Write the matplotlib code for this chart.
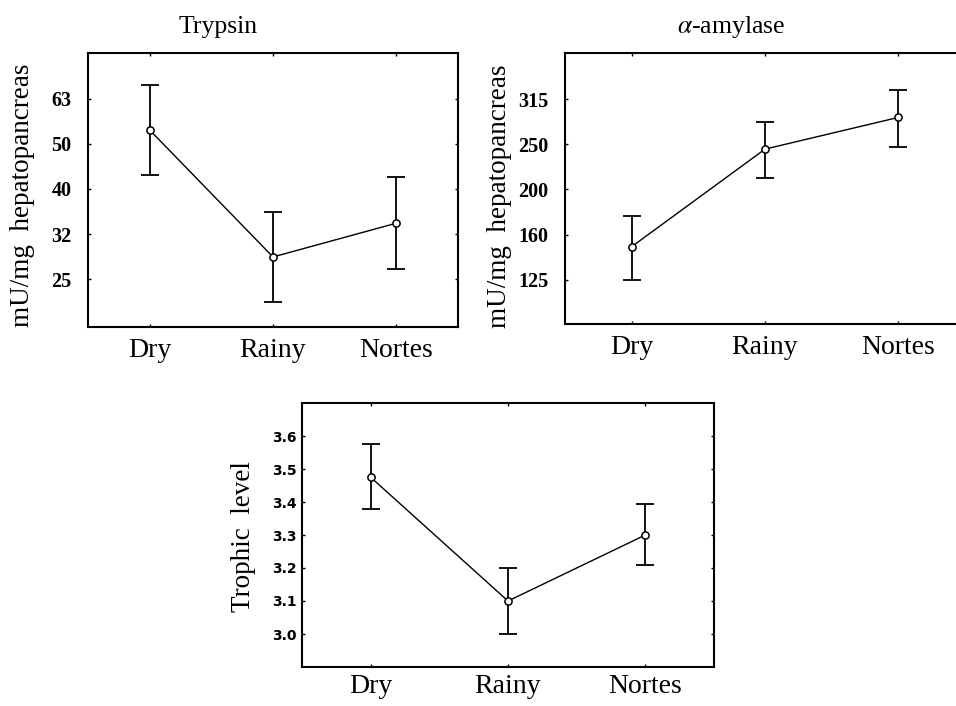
import numpy as np
import matplotlib
matplotlib.use("Agg")
import matplotlib.pyplot as plt

plt.rcParams['font.family'] = ['Liberation Serif', 'DejaVu Serif']
plt.rcParams['mathtext.fontset'] = 'stix'

# ----------------------------
# data
# ----------------------------
seasons = ["Dry", "Rainy", "Nortes"]

# Trypsin, mU/mg hepatopancreas (log axis)
trypsin_mean = [53.8, 28.1, 33.4]
trypsin_upper = [67.9, 35.4, 42.2]
trypsin_lower = [42.8, 22.3, 26.4]
trypsin_ticks = [25.1, 31.6, 39.8, 50.1, 63.1]
trypsin_ticklabels = ["25", "32", "40", "50", "63"]

# alpha-amylase, mU/mg hepatopancreas (log axis)
amylase_mean = [149, 245, 288]
amylase_upper = [174, 282, 332]
amylase_lower = [126, 212, 248]
amylase_ticks = [125.9, 158.5, 199.5, 251.2, 316.2]
amylase_ticklabels = ["125", "160", "200", "250", "315"]

# trophic level
trophic_mean = [3.475, 3.10, 3.30]
trophic_upper = [3.575, 3.20, 3.395]
trophic_lower = [3.378, 3.00, 3.208]
trophic_ticks = [3.0, 3.1, 3.2, 3.3, 3.4, 3.5, 3.6]
trophic_ticklabels = ["3.0", "3.1", "3.2", "3.3", "3.4", "3.5", "3.6"]

W, H = 956, 706
fig = plt.figure(figsize=(W / 100, H / 100), dpi=100)


def px_axes(left, top, right, bottom):
    return fig.add_axes([left / W, 1 - bottom / H, (right - left) / W, (bottom - top) / H])


def draw_panel(ax, mean, lower, upper):
    x = np.arange(len(seasons))
    mean = np.array(mean)
    yerr = [mean - np.array(lower), np.array(upper) - mean]
    ax.errorbar(x, mean, yerr=yerr, fmt='none', ecolor='black',
                elinewidth=1.3, capsize=6.5, capthick=1.3, zorder=2)
    ax.plot(x, mean, color='black', lw=1.0, marker='o', ms=5.2,
            mfc='white', mec='black', mew=1.1, zorder=3)
    ax.set_xlim(-0.5, 2.5)
    ax.set_xticks(x)
    ax.set_xticklabels(seasons, fontsize=20)
    ax.minorticks_off()
    ax.tick_params(direction='in', length=2.5, width=1, top=True, right=True)
    for s in ax.spines.values():
        s.set_linewidth(1.5)


# ---- Trypsin ----
ax1 = px_axes(88, 53, 458, 327)
draw_panel(ax1, trypsin_mean, trypsin_lower, trypsin_upper)
ax1.set_yscale('log')
ax1.set_ylim(10 ** 1.293, 10 ** 1.902)
ax1.set_yticks(trypsin_ticks)
ax1.set_yticklabels(trypsin_ticklabels, fontsize=14.5, fontweight='bold')
ax1.minorticks_off()
ax1.tick_params(axis='y', pad=12)
ax1.tick_params(axis='x', pad=8)
ax1.set_ylabel("mU/mg  hepatopancreas", fontsize=19.5, va='center')
ax1.yaxis.set_label_coords(-0.176, 0.482)
ax1.text(0.351, 1.073, "Trypsin", transform=ax1.transAxes,
         ha='center', va='baseline', fontsize=18.5)

# ---- alpha-amylase ----
ax2 = px_axes(565, 53, 965, 324)
draw_panel(ax2, amylase_mean, amylase_lower, amylase_upper)
ax2.set_yscale('log')
ax2.set_ylim(10 ** 2.002, 10 ** 2.602)
ax2.set_yticks(amylase_ticks)
ax2.set_yticklabels(amylase_ticklabels, fontsize=14.5, fontweight='bold')
ax2.minorticks_off()
ax2.tick_params(axis='y', pad=12)
ax2.tick_params(axis='x', pad=8)
ax2.set_ylabel("mU/mg  hepatopancreas", fontsize=19.5, va='center')
ax2.yaxis.set_label_coords(-0.165, 0.472)
ax2.text(0.415, 1.074, r"$\alpha$-amylase", transform=ax2.transAxes,
         ha='center', va='baseline', fontsize=18.5)

# ---- Trophic level ----
ax3 = px_axes(302, 403, 714, 667)
draw_panel(ax3, trophic_mean, trophic_lower, trophic_upper)
ax3.set_ylim(2.9, 3.7)
ax3.set_yticks(trophic_ticks)
ax3.set_yticklabels(trophic_ticklabels, fontsize=10, fontweight='bold',
                    family='DejaVu Sans')
ax3.tick_params(axis='y', pad=4)
ax3.tick_params(axis='x', pad=5)
ax3.set_ylabel("Trophic  level", fontsize=19.5, va='center')
ax3.yaxis.set_label_coords(-0.141, 0.494)

fig.savefig("out.png", dpi=100)
